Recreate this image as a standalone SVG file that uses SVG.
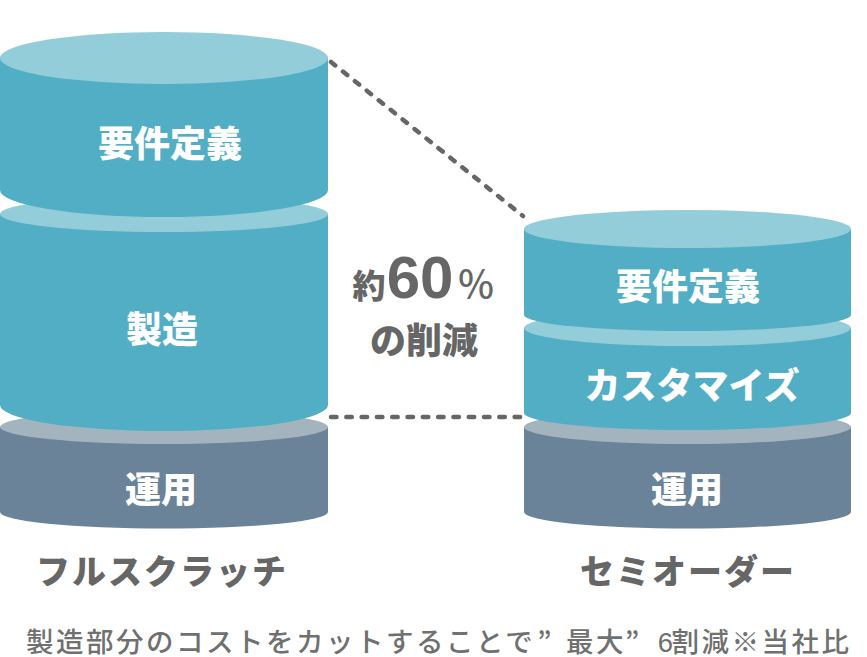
<svg xmlns="http://www.w3.org/2000/svg" width="867" height="657" viewBox="0 0 867 657">
<style>
.t{fill:#52aec5}.tl{fill:#92cdd9}.s{fill:#6a8398}.sl{fill:#a4b4be}
text{font-family:"Noto Sans CJK JP","Noto Sans",sans-serif;font-weight:900;text-anchor:middle}
.w{fill:#fff;font-size:36px}
.g{fill:#666}
.c{fill:none;stroke:#666;stroke-width:4.500;stroke-linecap:round;stroke-dasharray:5.500 9.800}
</style>
<rect width="867" height="657" fill="#fff"/>
<g id="connectors">
<path class="c" d="M331 62L523 216"/>
<path class="c" d="M331 417H524"/>
</g>
<g id="left-ops">
<path class="s" d="M0 427V512A164 16.500 0 0 0 328 512V427Z"/>
<ellipse class="sl" cx="164" cy="427" rx="164" ry="17"/>
<text class="w" x="161" y="503">運用</text>
</g>
<g id="left-build">
<path class="t" d="M0 214V405A164 26 0 0 0 328 405V214Z"/>
<ellipse class="tl" cx="164" cy="214" rx="164" ry="18"/>
<text class="w" x="162" y="343">製造</text>
</g>
<g id="left-req">
<path class="t" d="M0 58V190A164 27 0 0 0 328 190V58Z"/>
<ellipse class="tl" cx="164" cy="58" rx="164" ry="26"/>
<text class="w" x="170" y="157">要件定義</text>
</g>
<g id="right-ops">
<path class="s" d="M524 427V512A163.500 16.500 0 0 0 851 512V427Z"/>
<ellipse class="sl" cx="687.500" cy="427" rx="163.500" ry="17"/>
<text class="w" x="687" y="503">運用</text>
</g>
<g id="right-custom">
<path class="t" d="M524 328V413A163.500 17 0 0 0 851 413V328Z"/>
<ellipse class="tl" cx="687.500" cy="328" rx="163.500" ry="18"/>
<text class="w" x="692" y="399">カスタマイズ</text>
</g>
<g id="right-req">
<path class="t" d="M524 229V315A163.500 16 0 0 0 851 315V229Z"/>
<ellipse class="tl" cx="687.500" cy="229" rx="163.500" ry="19"/>
<text class="w" x="688" y="300">要件定義</text>
</g>
<g id="labels">
<text class="g" x="162" y="584" font-size="34" letter-spacing="2">フルスクラッチ</text>
<text class="g" x="688" y="584" font-size="34" letter-spacing="2">セミオーダー</text>
<text class="g" x="369" y="298" font-size="33">約</text>
<text class="g" x="420" y="298" font-size="60" style="font-family:'Liberation Sans',sans-serif;font-weight:700">60</text>
<text class="g" x="476" y="298" font-size="38" style="font-weight:500">％</text>
<text class="g" x="424" y="354" font-size="36">の削減</text>
<text x="26" y="652" font-size="27.500" letter-spacing="2.500" fill="#707070" style="font-weight:500;text-anchor:start">製造部分のコストをカットすることで<tspan dx="2">”</tspan><tspan dx="12">最大</tspan><tspan dx="-1">”</tspan><tspan dx="16" style="font-family:'Liberation Sans Narrow','Liberation Sans',sans-serif">6</tspan><tspan dx="-4">割減※当社比</tspan></text>
</g>
</svg>
